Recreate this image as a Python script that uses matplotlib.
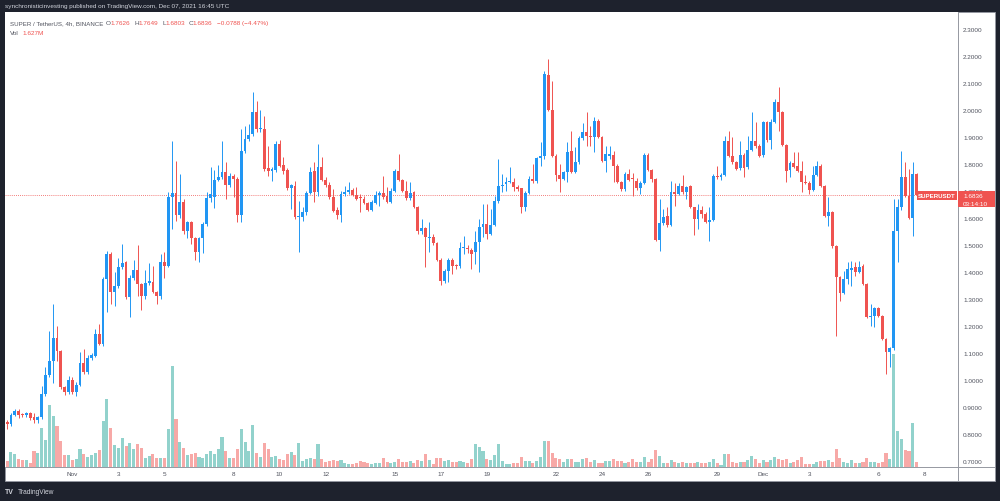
import datetime as dt

import numpy as np
import matplotlib
matplotlib.use("Agg")
import matplotlib.pyplot as plt
from matplotlib.patches import Rectangle
from matplotlib.lines import Line2D
from matplotlib.ticker import FormatStrFormatter

plt.rcParams["font.family"] = ["Liberation Sans", "DejaVu Sans"]

W, H = 1000, 502
START = dt.datetime(2021, 10, 29, 4)   # first 4h candle

# SUPER/USDT 4h candles
OPEN = [
    0.845, 0.836, 0.870, 0.885, 0.870, 0.868, 0.878, 0.862, 0.851, 0.861,
    0.947, 1.018, 1.071, 1.155, 1.108, 0.972, 0.953, 1.000, 0.955, 0.980,
    1.061, 1.030, 1.080, 1.089, 1.170, 1.133, 1.373, 1.466, 1.324, 1.349,
    1.419, 1.435, 1.306, 1.377, 1.408, 1.355, 1.310, 1.357, 1.363, 1.324,
    1.310, 1.435, 1.420, 1.676, 1.692, 1.611, 1.660, 1.552, 1.586, 1.524,
    1.472, 1.524, 1.577, 1.672, 1.676, 1.742, 1.750, 1.771, 1.722, 1.754,
    1.744, 1.611, 1.849, 1.892, 1.911, 1.993, 1.929, 1.929, 1.784, 1.775,
    1.778, 1.874, 1.797, 1.778, 1.710, 1.719, 1.602, 1.604, 1.620, 1.692,
    1.775, 1.695, 1.787, 1.741, 1.723, 1.676, 1.630, 1.611, 1.688, 1.695,
    1.704, 1.685, 1.673, 1.670, 1.655, 1.630, 1.655, 1.685, 1.692, 1.680,
    1.660, 1.701, 1.775, 1.741, 1.701, 1.673, 1.695, 1.640, 1.552, 1.561,
    1.524, 1.530, 1.507, 1.445, 1.367, 1.404, 1.445, 1.424, 1.420, 1.487,
    1.486, 1.482, 1.472, 1.509, 1.565, 1.577, 1.540, 1.574, 1.664, 1.719,
    1.726, 1.734, 1.734, 1.715, 1.709, 1.641, 1.692, 1.744, 1.736, 1.821,
    1.828, 2.129, 2.001, 1.830, 1.759, 1.744, 1.769, 1.849, 1.771, 1.806,
    1.895, 1.917, 1.905, 1.899, 1.960, 1.899, 1.812, 1.828, 1.833, 1.794,
    1.732, 1.707, 1.763, 1.744, 1.738, 1.709, 1.729, 1.833, 1.778, 1.744,
    1.519, 1.581, 1.606, 1.574, 1.695, 1.688, 1.719, 1.695, 1.717, 1.639,
    1.596, 1.630, 1.615, 1.586, 1.592, 1.756, 1.750, 1.759, 1.886, 1.830,
    1.806, 1.783, 1.833, 1.787, 1.853, 1.886, 1.867, 1.833, 1.954, 1.889,
    1.954, 2.028, 1.991, 1.870, 1.778, 1.803, 1.791, 1.775, 1.734, 1.729,
    1.704, 1.759, 1.794, 1.719, 1.608, 1.623, 1.494, 1.379, 1.321, 1.373,
    1.408, 1.417, 1.398, 1.420, 1.355, 1.231, 1.235, 1.266, 1.237, 1.151,
    1.101, 1.117, 1.552, 1.639, 1.750, 1.682, 1.598, 1.7626,
]
HIGH = [
    0.850, 0.875, 0.890, 0.893, 0.875, 0.882, 0.882, 0.878, 0.866, 0.978,
    1.047, 1.182, 1.281, 1.200, 1.112, 0.976, 1.015, 1.010, 0.990, 1.104,
    1.114, 1.090, 1.100, 1.188, 1.207, 1.379, 1.478, 1.472, 1.398, 1.450,
    1.503, 1.440, 1.390, 1.445, 1.500, 1.360, 1.408, 1.433, 1.420, 1.330,
    1.466, 1.472, 1.695, 1.886, 1.812, 1.763, 1.670, 1.590, 1.590, 1.530,
    1.530, 1.586, 1.697, 1.787, 1.778, 1.796, 1.886, 1.808, 1.765, 1.763,
    1.750, 1.929, 1.942, 1.948, 2.068, 2.034, 2.000, 1.979, 1.867, 1.790,
    1.886, 1.890, 1.824, 1.785, 1.725, 1.738, 1.664, 1.640, 1.700, 1.787,
    1.806, 1.874, 1.824, 1.750, 1.732, 1.707, 1.640, 1.701, 1.719, 1.732,
    1.710, 1.713, 1.688, 1.682, 1.660, 1.665, 1.701, 1.700, 1.756, 1.713,
    1.710, 1.780, 1.837, 1.745, 1.738, 1.732, 1.700, 1.645, 1.596, 1.565,
    1.584, 1.540, 1.510, 1.450, 1.410, 1.450, 1.450, 1.430, 1.510, 1.534,
    1.500, 1.490, 1.550, 1.596, 1.651, 1.651, 1.633, 1.682, 1.818, 1.763,
    1.750, 1.787, 1.747, 1.720, 1.712, 1.700, 1.756, 1.800, 1.825, 1.880,
    2.143, 2.189, 2.108, 1.835, 1.800, 1.775, 1.880, 1.923, 1.862, 1.902,
    1.952, 1.991, 1.940, 1.973, 1.967, 1.905, 1.867, 1.867, 1.849, 1.800,
    1.738, 1.770, 1.781, 1.767, 1.747, 1.735, 1.840, 1.840, 1.782, 1.748,
    1.670, 1.633, 1.639, 1.738, 1.731, 1.729, 1.759, 1.718, 1.722, 1.642,
    1.650, 1.645, 1.620, 1.639, 1.763, 1.791, 1.768, 1.905, 1.923, 1.899,
    1.812, 1.886, 1.840, 1.905, 1.991, 1.954, 1.872, 1.960, 1.960, 1.966,
    2.040, 2.084, 1.995, 1.875, 1.812, 1.843, 1.843, 1.812, 1.760, 1.735,
    1.794, 1.812, 1.798, 1.722, 1.676, 1.626, 1.498, 1.383, 1.404, 1.435,
    1.440, 1.437, 1.441, 1.428, 1.358, 1.280, 1.268, 1.270, 1.240, 1.155,
    1.120, 1.670, 1.670, 1.849, 1.806, 1.781, 1.806, 1.7649,
]
LOW = [
    0.817, 0.830, 0.865, 0.860, 0.862, 0.862, 0.852, 0.840, 0.838, 0.855,
    0.940, 1.009, 0.988, 1.071, 0.966, 0.944, 0.947, 0.948, 0.941, 0.975,
    1.020, 1.020, 1.075, 1.085, 1.128, 1.124, 1.251, 1.281, 1.274, 1.340,
    1.410, 1.299, 1.233, 1.370, 1.312, 1.260, 1.300, 1.350, 1.320, 1.281,
    1.300, 1.377, 1.417, 1.559, 1.590, 1.600, 1.540, 1.524, 1.503, 1.445,
    1.438, 1.470, 1.570, 1.660, 1.635, 1.735, 1.745, 1.670, 1.715, 1.676,
    1.583, 1.586, 1.840, 1.885, 1.905, 1.920, 1.920, 1.775, 1.756, 1.738,
    1.770, 1.790, 1.763, 1.705, 1.633, 1.595, 1.475, 1.590, 1.612, 1.688,
    1.658, 1.680, 1.735, 1.715, 1.670, 1.620, 1.596, 1.584, 1.680, 1.690,
    1.680, 1.665, 1.621, 1.650, 1.625, 1.625, 1.650, 1.645, 1.670, 1.655,
    1.655, 1.695, 1.735, 1.695, 1.668, 1.668, 1.635, 1.540, 1.540, 1.417,
    1.472, 1.500, 1.440, 1.351, 1.360, 1.361, 1.392, 1.410, 1.415, 1.466,
    1.470, 1.410, 1.429, 1.400, 1.528, 1.522, 1.535, 1.570, 1.655, 1.695,
    1.700, 1.730, 1.698, 1.700, 1.618, 1.625, 1.688, 1.730, 1.730, 1.794,
    1.820, 1.995, 1.825, 1.738, 1.695, 1.740, 1.732, 1.765, 1.765, 1.800,
    1.890, 1.867, 1.867, 1.843, 1.895, 1.808, 1.771, 1.820, 1.732, 1.728,
    1.700, 1.700, 1.735, 1.682, 1.705, 1.688, 1.725, 1.772, 1.732, 1.515,
    1.478, 1.575, 1.565, 1.570, 1.645, 1.684, 1.690, 1.670, 1.635, 1.537,
    1.558, 1.600, 1.580, 1.515, 1.588, 1.745, 1.742, 1.755, 1.825, 1.800,
    1.776, 1.778, 1.750, 1.780, 1.848, 1.860, 1.825, 1.825, 1.880, 1.855,
    1.950, 1.923, 1.865, 1.732, 1.750, 1.785, 1.770, 1.697, 1.725, 1.688,
    1.700, 1.755, 1.715, 1.604, 1.571, 1.490, 1.163, 1.293, 1.316, 1.355,
    1.348, 1.385, 1.395, 1.350, 1.227, 1.200, 1.195, 1.234, 1.147, 1.021,
    1.046, 1.110, 1.435, 1.630, 1.678, 1.594, 1.534, 1.6803,
]
CLOSE = [
    0.835, 0.869, 0.885, 0.868, 0.868, 0.878, 0.858, 0.851, 0.862, 0.947,
    1.018, 1.071, 1.155, 1.108, 0.972, 0.953, 1.000, 0.955, 0.980, 1.061,
    1.030, 1.080, 1.090, 1.170, 1.133, 1.373, 1.466, 1.325, 1.349, 1.419,
    1.432, 1.306, 1.377, 1.408, 1.355, 1.310, 1.357, 1.365, 1.324, 1.310,
    1.435, 1.421, 1.676, 1.692, 1.611, 1.660, 1.552, 1.583, 1.524, 1.472,
    1.524, 1.577, 1.672, 1.690, 1.742, 1.750, 1.771, 1.723, 1.755, 1.744,
    1.611, 1.849, 1.892, 1.907, 1.993, 1.929, 1.932, 1.781, 1.775, 1.781,
    1.874, 1.794, 1.775, 1.710, 1.720, 1.602, 1.606, 1.620, 1.692, 1.769,
    1.695, 1.787, 1.741, 1.723, 1.676, 1.627, 1.611, 1.688, 1.697, 1.704,
    1.685, 1.670, 1.672, 1.655, 1.630, 1.660, 1.685, 1.692, 1.677, 1.660,
    1.701, 1.775, 1.741, 1.701, 1.673, 1.692, 1.640, 1.552, 1.562, 1.528,
    1.530, 1.507, 1.445, 1.367, 1.404, 1.445, 1.422, 1.420, 1.487, 1.488,
    1.485, 1.467, 1.512, 1.565, 1.577, 1.540, 1.575, 1.664, 1.719, 1.723,
    1.734, 1.737, 1.713, 1.708, 1.641, 1.692, 1.744, 1.736, 1.821, 1.828,
    2.133, 2.001, 1.830, 1.759, 1.744, 1.769, 1.845, 1.771, 1.808, 1.895,
    1.917, 1.905, 1.898, 1.960, 1.899, 1.812, 1.835, 1.835, 1.794, 1.732,
    1.707, 1.763, 1.741, 1.743, 1.709, 1.730, 1.833, 1.778, 1.744, 1.519,
    1.581, 1.602, 1.574, 1.695, 1.688, 1.719, 1.695, 1.713, 1.639, 1.596,
    1.630, 1.615, 1.586, 1.593, 1.756, 1.750, 1.760, 1.886, 1.830, 1.806,
    1.781, 1.833, 1.783, 1.853, 1.886, 1.867, 1.830, 1.954, 1.888, 1.954,
    2.031, 1.991, 1.870, 1.775, 1.803, 1.790, 1.775, 1.734, 1.729, 1.704,
    1.759, 1.794, 1.719, 1.608, 1.623, 1.494, 1.379, 1.321, 1.373, 1.410,
    1.416, 1.398, 1.417, 1.355, 1.231, 1.237, 1.266, 1.238, 1.151, 1.101,
    1.117, 1.552, 1.639, 1.750, 1.682, 1.598, 1.7624, 1.6836,
]
# volume in millions
VOLUME = [
    2.0, 5.1, 4.4, 2.8, 2.2, 2.3, 1.2, 5.3, 4.8, 12.9,
    9.0, 20.8, 17.0, 13.6, 8.6, 4.0, 3.9, 2.2, 2.6, 6.1,
    4.4, 3.3, 4.0, 4.6, 5.7, 15.2, 22.8, 12.9, 7.2, 6.2,
    9.8, 7.0, 8.1, 5.9, 7.6, 6.2, 3.1, 3.7, 4.2, 2.9,
    2.9, 2.9, 12.6, 33.7, 16.1, 8.3, 6.2, 3.9, 4.2, 4.8,
    3.4, 3.0, 4.2, 5.3, 4.2, 6.1, 10.1, 5.3, 3.1, 2.9,
    5.9, 12.6, 8.3, 5.3, 14.0, 4.6, 3.3, 8.1, 6.1, 3.3,
    3.7, 2.6, 2.3, 4.4, 5.1, 3.9, 8.1, 2.0, 2.8, 3.1,
    2.8, 7.6, 2.8, 1.7, 1.9, 2.2, 1.9, 2.3, 1.4, 0.9,
    0.9, 1.4, 2.0, 1.7, 1.4, 0.9, 1.2, 1.4, 2.9, 1.7,
    1.2, 1.8, 2.6, 1.7, 1.7, 1.9, 1.4, 2.2, 2.0, 4.2,
    2.3, 0.9, 3.1, 2.9, 2.0, 2.3, 1.7, 1.7, 1.9, 1.8,
    1.4, 2.6, 7.6, 6.8, 5.3, 2.6, 2.3, 4.0, 7.8, 2.0,
    1.1, 1.1, 1.4, 1.4, 3.2, 2.0, 2.0, 1.4, 1.9, 3.4,
    8.7, 8.7, 4.8, 2.9, 2.6, 1.7, 2.6, 2.8, 1.7, 1.7,
    2.6, 3.1, 1.8, 2.3, 1.4, 1.4, 1.9, 1.9, 2.6, 1.9,
    2.0, 1.4, 1.7, 2.8, 1.7, 1.7, 3.4, 1.7, 2.6, 5.6,
    3.7, 1.4, 1.2, 2.2, 1.7, 1.2, 1.8, 1.2, 1.4, 1.4,
    1.7, 1.2, 1.2, 1.7, 2.6, 1.4, 0.7, 4.2, 4.2, 1.8,
    1.2, 1.8, 1.8, 2.3, 3.7, 2.6, 1.2, 2.3, 1.8, 2.3,
    3.4, 2.6, 2.3, 2.6, 1.2, 1.7, 2.2, 3.3, 1.1, 0.9,
    1.1, 1.7, 2.0, 2.0, 2.3, 1.7, 6.1, 3.1, 1.8, 1.4,
    2.3, 1.2, 1.2, 1.7, 3.1, 1.8, 1.8, 1.4, 1.8, 4.8,
    2.8, 37.6, 12.0, 9.4, 5.7, 5.3, 14.6, 1.627,
]

UP, DOWN = "#2196f3", "#ef5350"
VOL_UP, VOL_DOWN = "#92d2cc", "#f7a9a7"
DARK = "#1e222d"
TXT = "#50535e"
EDGE = "#9598a1"


def fx(px):
    return px / W


def fy(py):
    return 1 - py / H


o, hi, lo, c = map(np.asarray, (OPEN, HIGH, LOW, CLOSE))
idx = np.arange(len(o))
up = c >= o

fig = plt.figure(figsize=(W / 100, H / 100), dpi=100)
fig.patch.set_facecolor(DARK)
# white pane (chart + both scales)
fig.patches.append(Rectangle((fx(5), fy(482)), fx(990), 469 / H, transform=fig.transFigure,
                             facecolor="white", edgecolor=EDGE, lw=0.6, zorder=-1))

rect = [fx(5), fy(468), fx(953), 455 / H]
axv = fig.add_axes(rect)
axv.set_facecolor("white")
axv.bar(idx, VOLUME, width=0.8, color=np.where(up, VOL_UP, VOL_DOWN), linewidth=0)
axv.set_ylim(0, 455 / 3)

axp = fig.add_axes(rect, sharex=axv)
axp.patch.set_alpha(0)
last = c[-1]
axp.hlines(last, -1, (917 - 7.1) / 3.838, colors=DOWN, lw=0.6, linestyles=(0, (1, 1.5)), zorder=1)
axp.vlines(idx, lo, hi, colors=np.where(up, UP, DOWN), lw=0.7, zorder=2)
body = np.maximum(np.abs(c - o), 0.004)
axp.bar(idx, body, bottom=np.minimum(o, c), width=0.74,
        color=np.where(up, UP, DOWN), linewidth=0, zorder=3)
axp.set_ylim(2.3 - 438 / 269.8, 2.3 + 17 / 269.8)
axp.set_xlim((5 - 7.1) / 3.838, (958 - 7.1) / 3.838)

for a in (axv, axp):
    for s in a.spines.values():
        s.set_visible(False)
axv.set_yticks([])
axv.tick_params(axis="x", length=0, labelbottom=False)

axp.yaxis.tick_right()
axp.set_yticks(np.arange(0.7, 2.31, 0.1))
axp.yaxis.set_major_formatter(FormatStrFormatter("%.4f"))
axp.tick_params(axis="y", length=0, pad=3.6, labelsize=4.6, labelcolor=TXT)

# day ticks
tick_days = [dt.datetime(2021, 11, d) for d in (1, 3, 5, 8, 10, 12, 15, 17, 19, 22, 24, 26, 29)]
tick_days += [dt.datetime(2021, 12, d) for d in (1, 3, 6, 8)]
tick_pos = [(d - START).total_seconds() / 14400 for d in tick_days]
tick_lab = [d.strftime("%b") if d.day == 1 else str(d.day) for d in tick_days]
axp.set_xticks(tick_pos)
axp.set_xticklabels(tick_lab)
axp.tick_params(axis="x", length=0, pad=3.2, labelsize=4.6, labelcolor=TXT)

# scale separators
fig.lines.append(Line2D([fx(958), fx(958)], [fy(13), fy(482)], transform=fig.transFigure,
                        color=EDGE, lw=0.7))
fig.lines.append(Line2D([fx(5), fx(995)], [fy(468), fy(468)], transform=fig.transFigure,
                        color=EDGE, lw=0.7))

# last price labels
fig.patches.append(Rectangle((fx(958), fy(208.3)), 37 / W, 16 / H, transform=fig.transFigure,
                             facecolor=DOWN, edgecolor="none", zorder=4))
fig.text(fx(963), fy(196.7), f"{last:.4f}", color="white", fontsize=4.6, va="center", zorder=5)
fig.text(fx(963), fy(204.3), "03:14:10", color="white", fontsize=4.6, va="center", zorder=5)
fig.patches.append(Rectangle((fx(917), fy(200.7)), 40 / W, 8.4 / H, transform=fig.transFigure,
                             facecolor=DOWN, edgecolor="none", zorder=4))
fig.text(fx(937), fy(196.5), "SUPERUSDT", color="white", fontsize=4.4, fontweight="bold",
         ha="center", va="center", zorder=5)

# header and legend
fig.text(fx(5), fy(6.5), "synchronisticinvesting published on TradingView.com, Dec 07, 2021 16:45 UTC",
         color="#d1d4dc", fontsize=4.6, va="center")
fig.text(fx(10), fy(23.3), "SUPER / TetherUS, 4h, BINANCE", color=TXT, fontsize=4.4, va="center")
for lab, val, xl, xv in (("O", OPEN[-1], 106, 110), ("H", HIGH[-1], 134.3, 138.7),
                         ("L", LOW[-1], 162.3, 165.7), ("C", CLOSE[-1], 188.3, 192.3)):
    fig.text(fx(xl), fy(23.3), lab, color=TXT, fontsize=4.6, va="center")
    fig.text(fx(xv), fy(23.3), f"{val:.4f}", color=DOWN, fontsize=4.6, va="center")
chg = CLOSE[-1] - CLOSE[-2]
fig.text(fx(216.7), fy(23.3), f"\u2212{abs(chg):.4f} (\u2212{abs(chg) / CLOSE[-2] * 100:.2f}%)",
         color=DOWN, fontsize=4.6, va="center")
fig.text(fx(10), fy(33.3), "Vol", color=TXT, fontsize=4.6, va="center")
fig.text(fx(22.7), fy(33.3), f"{VOLUME[-1]:.3f}M", color=DOWN, fontsize=4.6, va="center")

# footer
fig.text(fx(5), fy(492.3), "TV", color="#d1d4dc", fontsize=5, fontweight="bold", va="center")
fig.text(fx(18.3), fy(492.3), "TradingView", color="#d1d4dc", fontsize=4.8, va="center")

fig.savefig("out.png", dpi=100, facecolor=fig.get_facecolor())
